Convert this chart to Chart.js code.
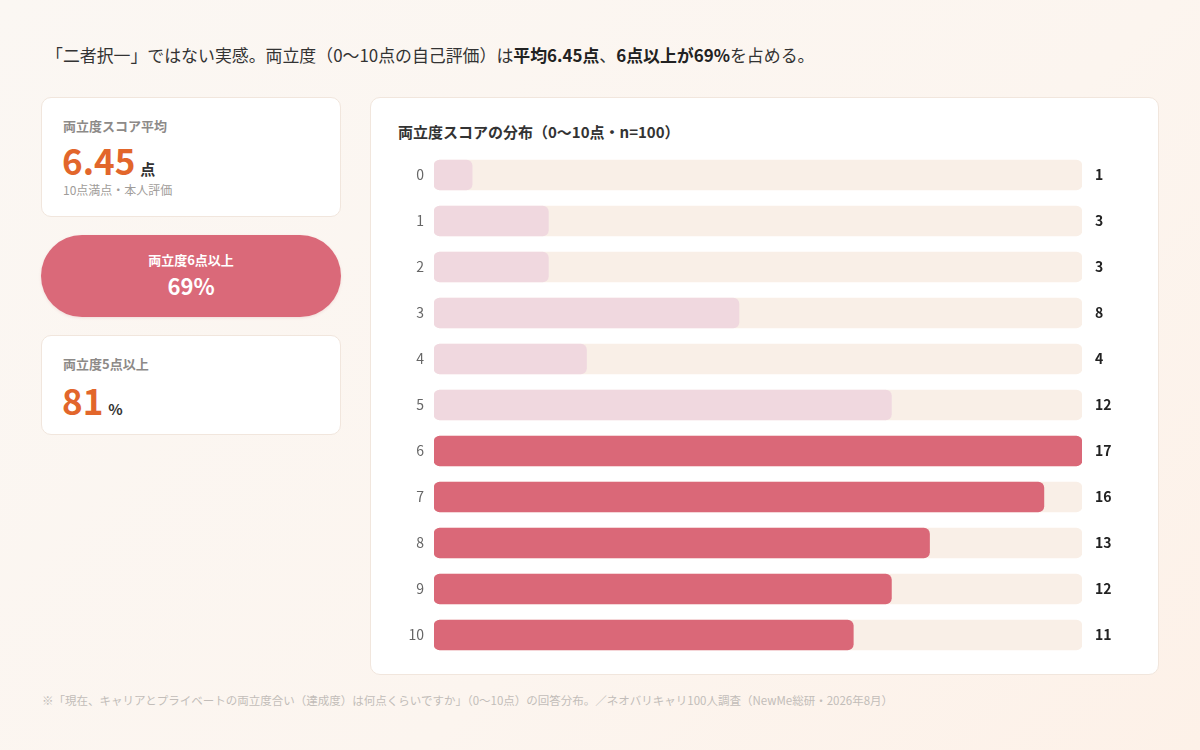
<!DOCTYPE html>
<html lang="ja">
<head>
<meta charset="utf-8">
<script src="https://cdn.jsdelivr.net/npm/chart.js@4.4.1/dist/chart.umd.min.js"></script>
<style>
  html,body{margin:0;padding:0;}
  body{width:1200px;height:750px;position:relative;overflow:hidden;
    font-family:"Noto Sans CJK JP","Noto Sans",sans-serif;
    background:linear-gradient(135deg,#fbf7f3 0%,#fcf5ef 60%,#fdf1e8 100%);}
  .title{position:absolute;left:46px;top:42px;font-size:16.9px;color:#333;}
  .title b{font-weight:700;color:#222;}
  .card{position:absolute;background:#fff;border:1px solid #f1e6dd;border-radius:10px;box-sizing:border-box;}
  .lbl{position:absolute;left:21px;font-size:13px;font-weight:700;color:#8d8a88;}
  .big{position:absolute;left:20px;font-size:35px;font-weight:700;color:#e2662b;line-height:1;}
  .unit{font-size:15px;color:#333;font-weight:700;margin-left:5px;}
  .sub{position:absolute;left:21px;font-size:12px;color:#a09c99;}
  .pill{position:absolute;left:41px;top:235px;width:300px;height:82px;border-radius:41px;
    background:#da6979;color:#fff;text-align:center;box-shadow:0 1px 3px rgba(180,80,90,0.15);}
  .foot{position:absolute;left:42px;top:692px;font-size:11.5px;color:#c2bdb9;}
  #wrap{position:absolute;left:390px;top:152px;width:750px;height:506px;}
</style>
</head>
<body>
<div class="title">「二者択一」ではない実感。両立度（0〜10点の自己評価）は<b>平均6.45点</b>、<b>6点以上が69%</b>を占める。</div>

<div class="card" style="left:41px;top:97px;width:300px;height:120px;">
  <div class="lbl" style="top:18px;">両立度スコア平均</div>
  <div class="big" style="top:44px;">6.45<span class="unit">点</span></div>
  <div class="sub" style="top:83px;">10点満点・本人評価</div>
</div>

<div class="pill">
  <div style="position:absolute;left:0;right:0;top:15px;font-size:13px;font-weight:700;">両立度6点以上</div>
  <div style="position:absolute;left:0;right:0;top:34px;font-size:22px;font-weight:700;">69%</div>
</div>

<div class="card" style="left:41px;top:335px;width:300px;height:100px;">
  <div class="lbl" style="top:18px;">両立度5点以上</div>
  <div class="big" style="top:46px;">81<span class="unit">%</span></div>
</div>

<div class="card" style="left:370px;top:97px;width:789px;height:578px;">
  <div style="position:absolute;left:27px;top:23px;font-size:15px;font-weight:700;color:#333;">両立度スコアの分布（0〜10点・n=100）</div>
</div>
<div id="wrap"><canvas id="c"></canvas></div>

<div class="foot">※「現在、キャリアとプライベートの両立度合い（達成度）は何点くらいですか」（0〜10点）の回答分布。／ネオバリキャリ100人調査（NewMe総研・2026年8月）</div>

<script>
const categories = ["0","1","2","3","4","5","6","7","8","9","10"];
const counts = [1,3,3,8,4,12,17,16,13,12,11];
const highlightFrom = 6;

const maxVal = Math.max(...counts);
const trackValues = counts.map(() => maxVal);
const barColors = categories.map(c => Number(c) >= highlightFrom ? "#da6878" : "rgba(236,206,220,0.72)");

const valueLabels = {
  id: "valueLabels",
  afterDatasetsDraw(chart) {
    const ctx = chart.ctx;
    const ys = chart.scales.y;
    ctx.save();
    ctx.font = "700 14px 'Noto Sans CJK JP', sans-serif";
    ctx.fillStyle = "#222";
    ctx.textAlign = "left";
    ctx.textBaseline = "middle";
    counts.forEach((v, i) => {
      ctx.fillText(String(v), chart.chartArea.right + 13, ys.getPixelForValue(i));
    });
    ctx.restore();
  }
};

new Chart(document.getElementById("c"), {
  type: "bar",
  data: {
    labels: categories,
    datasets: [
      { data: counts, backgroundColor: barColors, borderRadius: 6, borderSkipped: false,
        barThickness: 30, order: 0 },
      { data: trackValues, backgroundColor: "#f9efe7", borderRadius: 6, borderSkipped: false,
        barThickness: 30, order: 1 }
    ]
  },
  options: {
    indexAxis: "y",
    responsive: true,
    maintainAspectRatio: false,
    animation: false,
    layout: { padding: { left: 0, right: 58, top: 0, bottom: 0 } },
    plugins: { legend: { display: false }, tooltip: { enabled: false } },
    datasets: { bar: { grouped: false } },
    scales: {
      x: { display: false, min: 0, max: maxVal },
      y: {
        grid: { display: false }, border: { display: false },
        ticks: { color: "#666", font: { family: "'Noto Sans CJK JP', sans-serif", size: 14 }, padding: 2 },
        afterFit(scale) { scale.width = 44; scale.paddingTop = 0; scale.paddingBottom = 0; }
      }
    }
  },
  plugins: [valueLabels]
});
</script>
</body>
</html>
